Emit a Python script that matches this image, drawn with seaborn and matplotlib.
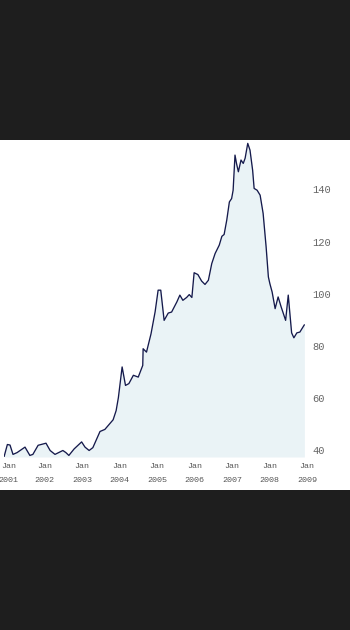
import matplotlib
matplotlib.use("Agg")
import matplotlib.pyplot as plt
import matplotlib.transforms as mtransforms
import seaborn as sns
import pandas as pd

# Data (fractional year, value)
years = [2000.92, 2001.01, 2001.08, 2001.16, 2001.27, 2001.48, 2001.61, 2001.69, 2001.83,
         2002.04, 2002.15, 2002.28, 2002.49, 2002.57, 2002.65, 2002.79, 2002.99,
         2003.08, 2003.19, 2003.29, 2003.48, 2003.61, 2003.83, 2003.91, 2003.97,
         2004.07, 2004.16, 2004.25, 2004.37, 2004.50, 2004.62, 2004.63, 2004.72, 2004.84, 2004.95,
         2005.03, 2005.10, 2005.19, 2005.30, 2005.39, 2005.53, 2005.61, 2005.69, 2005.79, 2005.86, 2005.93, 2005.99,
         2006.09, 2006.19, 2006.28, 2006.37, 2006.46, 2006.55, 2006.66, 2006.73, 2006.79, 2006.86, 2006.93, 2006.99,
         2007.03, 2007.08, 2007.12, 2007.17, 2007.24, 2007.30, 2007.35, 2007.42, 2007.48, 2007.55, 2007.59,
         2007.67, 2007.75, 2007.83, 2007.91, 2007.97,
         2008.01, 2008.07, 2008.15, 2008.23, 2008.31, 2008.37, 2008.43, 2008.50, 2008.55, 2008.59,
         2008.65, 2008.73, 2008.81, 2008.93]
values = [37.2, 42.0, 41.8, 38.2, 38.9, 41.0, 37.8, 38.2, 41.7,
          42.5, 39.7, 38.2, 39.7, 38.9, 37.8, 40.3, 43.0,
          41.0, 39.7, 40.8, 47.0, 47.8, 51.5, 55.0, 60.0,
          71.8, 64.7, 65.4, 68.6, 67.9, 72.4, 78.8, 77.5, 84.5, 93.0,
          101.3, 101.3, 89.7, 92.5, 92.9, 96.8, 99.4, 97.4, 98.5, 99.6, 98.5, 108.0,
          107.3, 104.8, 103.5, 105.1, 111.5, 115.4, 118.6, 122.0, 122.7, 128.2, 135.2, 136.5,
          139.7, 153.2, 150.0, 146.8, 151.3, 150.0, 152.0, 157.7, 155.1, 147.4, 140.4,
          139.7, 137.8, 130.8, 117.9, 106.4,
          103.8, 100.6, 94.2, 98.7, 94.9, 92.3, 89.7, 99.4, 91.3, 84.9,
          83.0, 84.9, 85.2, 88.0]
tick_years = [2001, 2002, 2003, 2004, 2005, 2006, 2007, 2008, 2009]
y_ticks = [40, 60, 80, 100, 120, 140]

df = pd.DataFrame({"year": years, "value": values})

sns.set_theme(style="white")
plt.rcParams['font.family'] = ['Liberation Mono', 'DejaVu Sans Mono']

W, H = 350, 630
fig = plt.figure(figsize=(W / 100, H / 100), dpi=100)
fig.patch.set_facecolor('#1e1e1e')

# white panel
bg = fig.add_axes([0, (H - 490) / H, 1, 350 / H], zorder=0)
bg.set_axis_off()
bg.add_patch(plt.Rectangle((0, 0), 1, 1, transform=bg.transAxes,
                           facecolor='white', edgecolor='none'))

left_px, right_px = 4, 307
top_px, bottom_px = 140, 457
ax = fig.add_axes([left_px / W, (H - bottom_px) / H,
                   (right_px - left_px) / W, (bottom_px - top_px) / H], zorder=1)
ax.set_facecolor('none')

ymin, ymax = 37.2, 159.0
ax.fill_between(df["year"], df["value"], ymin, color='#eaf3f6', linewidth=0)
sns.lineplot(data=df, x="year", y="value", ax=ax, color='#151a4c', linewidth=0.95)

ax.set_xlim(2000.92, 2009.0)
ax.set_ylim(ymin, ymax)

ax.set_xticks(tick_years)
ax.set_xticklabels([f"Jan\n{y}" for y in tick_years], fontsize=6, color='#555555',
                   linespacing=2.4)
ax.yaxis.tick_right()
ax.set_yticks(y_ticks)
ax.set_yticklabels([str(v) for v in y_ticks], fontsize=7.5, color='#666666')
ax.tick_params(axis='x', length=0, pad=4)
ax.tick_params(axis='y', length=0, pad=4)
ax.set_xlabel("")
ax.set_ylabel("")
for s in ax.spines.values():
    s.set_visible(False)

# nudge the first x label so it stays inside the picture
first = ax.get_xticklabels()[0]
first.set_transform(first.get_transform() +
                    mtransforms.ScaledTranslation(1.5 / 100, 0, fig.dpi_scale_trans))

fig.savefig("out.png", dpi=100, facecolor=fig.get_facecolor())
